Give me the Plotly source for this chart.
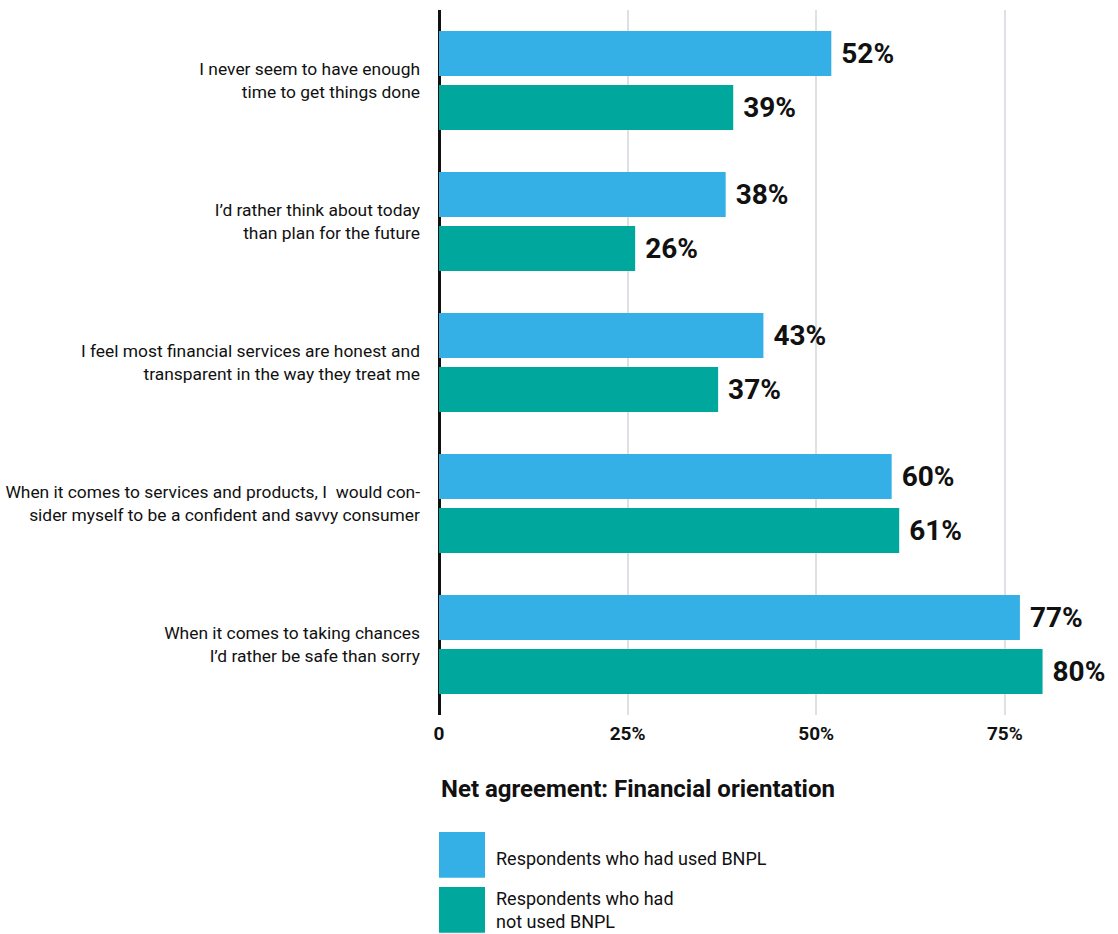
import plotly.graph_objects as go

categories = [
    "I never seem to have enough<br>time to get things done",
    "I’d rather think about today<br>than plan for the future",
    "I feel most financial services are honest and<br>transparent in the way they treat me",
    "When it comes to services and products, I  would con-<br>sider myself to be a confident and savvy consumer",
    "When it comes to taking chances<br>I’d rather be safe than sorry",
]
used_bnpl = [52, 38, 43, 60, 77]
not_used_bnpl = [39, 26, 37, 61, 80]
series_names = ["Respondents who had used BNPL", "Respondents who had<br>not used BNPL"]
colors = ["#35b0e6", "#00a79d"]
tick_vals = [0, 25, 50, 75]
tick_text = ["0", "25%", "50%", "75%"]
title_text = "Net agreement: Financial orientation"

NARROW = "Roboto, Liberation Sans, sans-serif"
BOLD = "Roboto, Inter, sans-serif"

L = 439
PW = 1118 - L

fig = go.Figure()
for vals, name, col in [(used_bnpl, series_names[0], colors[0]),
                        (not_used_bnpl, series_names[1], colors[1])]:
    fig.add_trace(go.Bar(
        y=categories, x=vals, orientation="h", name=name,
        marker=dict(color=col, line=dict(width=0)),
        text=vals, texttemplate="\u00a0%{x}%", textposition="outside",
        textfont=dict(family=BOLD, size=28, color="#111111", weight="bold"),
        cliponaxis=False, constraintext="none", showlegend=False,
    ))

fig.update_layout(
    width=1118, height=934,
    margin=dict(l=L, r=0, t=10, b=219, autoexpand=False),
    paper_bgcolor="white", plot_bgcolor="white",
    barmode="group", bargap=0.234, bargroupgap=1/6,
    font=dict(family=NARROW, color="#111111"),
    xaxis=dict(
        range=[0, 90], tickvals=tick_vals, ticktext=tick_text,
        showgrid=True, gridcolor="#dde0e4", gridwidth=2,
        zeroline=True, zerolinecolor="#111111", zerolinewidth=3,
        showline=False, ticks="", ticklabelstandoff=5, automargin=False,
        tickfont=dict(family=BOLD, size=19, color="#111111", weight="bold"),
        fixedrange=True,
    ),
    yaxis=dict(
        autorange="reversed", showgrid=False, zeroline=False, showline=False,
        ticks="", ticklabelstandoff=18, automargin=False,
        tickfont=dict(family=NARROW, size=17.4, color="#111111"),
        fixedrange=True,
    ),
)

fig.add_annotation(
    text="<b>" + title_text + "</b>", xref="paper", yref="paper",
    x=0, y=-0.105, xanchor="left", yanchor="middle", showarrow=False,
    font=dict(family=BOLD, size=24, color="#111111"),
)

# manual legend
swatches = [(-0.166, -0.231), (-0.244, -0.309)]
label_y = [-0.203, -0.277]
sw_w = 46 / PW
for (top, bot), ly, name, col in zip(swatches, label_y, series_names, colors):
    fig.add_shape(type="rect", xref="paper", yref="paper",
                  x0=0, x1=sw_w, y0=bot, y1=top,
                  fillcolor=col, line=dict(width=0))
    fig.add_annotation(text=name, xref="paper", yref="paper",
                       x=sw_w + 9 / PW, y=ly, xanchor="left", yanchor="middle",
                       align="left", showarrow=False,
                       font=dict(family=NARROW, size=18, color="#111111"))

fig.write_html("out.html")
